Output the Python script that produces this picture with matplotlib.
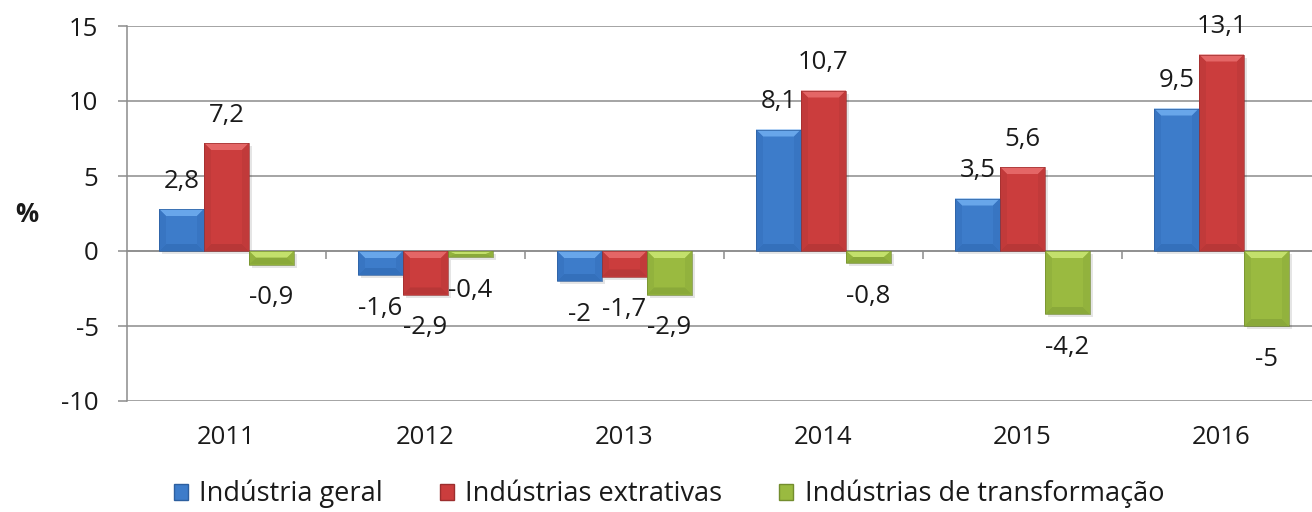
import matplotlib
matplotlib.use("Agg")
import matplotlib.pyplot as plt
from matplotlib.patches import Polygon, Patch, Rectangle
import numpy as np

plt.rcParams['font.family'] = ['Open Sans', 'DejaVu Sans']

# ---- data ----
years = ["2011", "2012", "2013", "2014", "2015", "2016"]
series_names = ["Indústria geral", "Indústrias extrativas", "Indústrias de transformação"]
industria_geral = [2.8, -1.6, -2.0, 8.1, 3.5, 9.5]
industrias_extrativas = [7.2, -2.9, -1.7, 10.7, 5.6, 13.1]
industrias_transformacao = [-0.9, -0.4, -2.9, -0.8, -4.2, -5.0]
y_ticks = [-10, -5, 0, 5, 10, 15]
y_label = "%"

# ---- styles ----
face = ["#3d7cca", "#cb3d3d", "#9aba40"]
light = ["#68a6ea", "#e46666", "#c3e06c"]
dark = ["#3470bb", "#b83737", "#8aa93a"]
side = ["#3875c2", "#c13a3a", "#92b23d"]
edge = ["#2d5f9f", "#9c2e2e", "#738d2e"]
text_c = "#1a1a1a"
FS = 18.5

W, H = 1312, 512
fig = plt.figure(figsize=(W / 100, H / 100), dpi=100)
ax = fig.add_axes([127 / W, 111 / H, 1194 / W, 375 / H])

ncat = len(years)
xpx = 1194 / ncat          # pixels per category unit
ypx = 375 / 25             # pixels per y unit
bw = 45 / xpx
x = np.arange(ncat)
all_series = [industria_geral, industrias_extrativas, industrias_transformacao]

ax.set_xlim(-0.5, ncat - 0.5)
ax.set_ylim(-10, 15)

grid_c = "#8c8c8c"
for t in y_ticks:
    ax.axhline(t, color=grid_c, lw=1.1, zorder=1)

for si, vals in enumerate(all_series):
    offs = (si - 1) * bw
    bars = ax.bar(x + offs, vals, width=bw, color=face[si], edgecolor="none",
                  linewidth=0, zorder=3)
    for rect, v in zip(bars, vals):
        xl = rect.get_x()
        xr = xl + rect.get_width()
        y0 = rect.get_y()
        y1 = y0 + rect.get_height()
        ylo, yhi = min(y0, y1), max(y0, y1)
        sh = Rectangle((xl + 3 / xpx, ylo - 3 / ypx), xr - xl, yhi - ylo,
                       facecolor="#000000", alpha=0.10, edgecolor="none", zorder=2)
        ax.add_patch(sh)
        dx = min(7 / xpx, (xr - xl) / 2)
        dy = min(7 / ypx, (yhi - ylo) / 2)
        polys = [
            ([(xl, yhi), (xr, yhi), (xr - dx, yhi - dy), (xl + dx, yhi - dy)], light[si]),
            ([(xl, ylo), (xr, ylo), (xr - dx, ylo + dy), (xl + dx, ylo + dy)], dark[si]),
            ([(xl, ylo), (xl, yhi), (xl + dx, yhi - dy), (xl + dx, ylo + dy)], side[si]),
            ([(xr, ylo), (xr, yhi), (xr - dx, yhi - dy), (xr - dx, ylo + dy)], side[si]),
        ]
        for pts, c in polys:
            ax.add_patch(Polygon(pts, closed=True, facecolor=c, edgecolor="none", zorder=4))
        ax.add_patch(Rectangle((xl, ylo), xr - xl, yhi - ylo, facecolor="none",
                               edgecolor=edge[si], lw=0.5, zorder=5))
        txt = f"{v:g}".replace(".", ",")
        off = 20 if v >= 0 else -24
        ax.annotate(txt, (rect.get_x() + rect.get_width() / 2, v), xytext=(0, off),
                    textcoords="offset points", ha="center", va="center",
                    fontsize=FS, color=text_c, zorder=6)

for s in ["top", "right"]:
    ax.spines[s].set_visible(False)
ax.spines["left"].set_color(grid_c)
ax.spines["left"].set_linewidth(1.1)
ax.spines["bottom"].set_position(("data", 0))
ax.spines["bottom"].set_color(grid_c)
ax.spines["bottom"].set_linewidth(1.1)

ax.set_yticks(y_ticks)
ax.set_yticklabels([str(t) for t in y_ticks])
ax.tick_params(axis="y", direction="out", length=6.5, width=1.1, color=grid_c,
               pad=14, labelsize=FS, labelcolor=text_c)
ax.set_xticks(x[:-1] + 0.5)
ax.set_xticklabels([])
ax.tick_params(axis="x", direction="out", length=6, width=1.1, color=grid_c)

for i, yr in enumerate(years):
    ax.annotate(yr, (i, -10), xytext=(0, -26.5), textcoords="offset points",
                ha="center", va="center", fontsize=FS, color=text_c,
                annotation_clip=False)

fig.text(27 / W, 1 - 215 / H, y_label, ha="center", va="center",
         fontsize=FS, fontweight="bold", color=text_c)

handles = [Patch(facecolor=face[i], edgecolor=edge[i], label=series_names[i])
           for i in range(3)]
fig.legend(handles=handles, loc="center", bbox_to_anchor=(669 / W, 1 - 494 / H),
           ncol=3, frameon=False, fontsize=19.5, handlelength=0.52, handleheight=0.55,
           handletextpad=0.42, columnspacing=2.1, labelcolor=text_c)

fig.savefig("out.png", dpi=100)
